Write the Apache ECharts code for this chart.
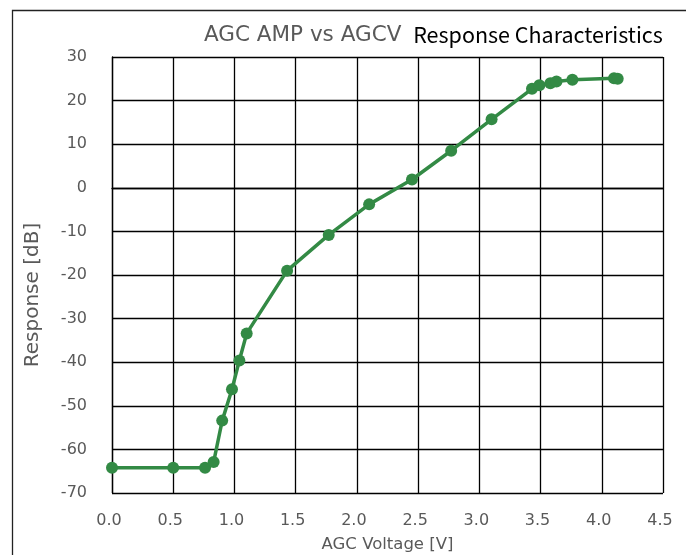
<!DOCTYPE html>
<html>
<head>
<meta charset="utf-8">
<script src="https://cdn.jsdelivr.net/npm/echarts@6/dist/echarts.min.js"></script>
<style>html,body{margin:0;padding:0;background:#fff}#c{width:686px;height:555px}</style>
</head>
<body>
<div id="c"></div>
<script>
const titleParts = ["AGC AMP vs AGCV ", "Response Characteristics"];
const xAxisName = "AGC Voltage [V]";
const yAxisName = "Response [dB]";
const voltage = [0.0, 0.5, 0.76, 0.83, 0.90, 0.98, 1.04, 1.10, 1.43, 1.77, 2.10, 2.45, 2.77, 3.10, 3.43, 3.49, 3.58, 3.63, 3.76, 4.10, 4.13];
const response = [-64.2, -64.2, -64.2, -62.9, -53.4, -46.2, -39.6, -33.4, -19.0, -10.8, -3.8, 1.9, 8.5, 15.7, 22.7, 23.5, 24.0, 24.4, 24.8, 25.1, 25.0];

const chart = echarts.init(document.getElementById('c'));
const gray = '#595959';
chart.setOption({
  animation: false,
  graphic: [{
    type: 'rect', shape: {x: 12.5, y: 10.5, width: 700, height: 600},
    style: {fill: 'none', stroke: '#222', lineWidth: 1.3}
  }],
  title: {
    text: '{a|' + titleParts[0] + '}{b|' + titleParts[1] + '}',
    left: 199, top: 19,
    textStyle: {
      rich: {
        a: {fontFamily: 'DejaVu Sans', fontSize: 21.5, fontWeight: 'normal', color: gray},
        b: {fontFamily: 'Noto Sans CJK JP', fontSize: 21.5, fontWeight: 'normal', color: '#000', padding: [0, 0, 0, 5]}
      }
    }
  },
  grid: {left: 112, top: 57, right: 23, bottom: 62, containLabel: false, outerBoundsMode: 'none'},
  xAxis: {
    type: 'value', min: 0, max: 4.5, interval: 0.5,
    name: xAxisName, nameLocation: 'middle', nameGap: 43,
    nameTextStyle: {fontFamily: 'DejaVu Sans', fontSize: 16.5, color: gray},
    axisLine: {show: true, lineStyle: {color: '#000', width: 1.3}},
    axisTick: {show: false},
    axisLabel: {fontFamily: 'DejaVu Sans', fontSize: 16, color: gray, margin: 20, padding: [0, 6, 0, 0], formatter: v => v.toFixed(1)},
    splitLine: {show: true, lineStyle: {color: '#000', width: 1.3}}
  },
  yAxis: {
    type: 'value', min: -70, max: 30, interval: 10,
    name: yAxisName, nameLocation: 'middle', nameGap: 69,
    nameTextStyle: {fontFamily: 'DejaVu Sans', fontSize: 20, color: gray, padding: [0, 40, 0, 0]},
    axisLine: {show: true, lineStyle: {color: '#000', width: 1.3}},
    axisTick: {show: false},
    axisLabel: {fontFamily: 'DejaVu Sans', fontSize: 16, color: gray, margin: 25},
    splitLine: {show: true, lineStyle: {color: '#000', width: 1.3}}
  },
  series: [{
    type: 'line',
    data: voltage.map((v, i) => [v, response[i]]),
    symbol: 'circle', symbolSize: 12,
    lineStyle: {color: '#338a45', width: 3.5},
    itemStyle: {color: '#338a45'}
  }]
});
</script>
</body>
</html>
